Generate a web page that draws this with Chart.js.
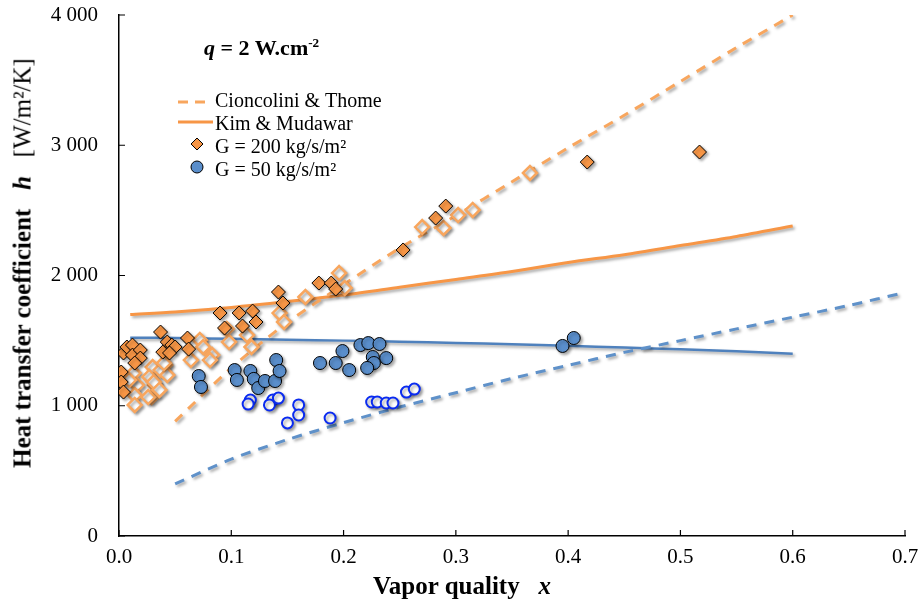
<!DOCTYPE html>
<html lang="en">
<head>
<meta charset="UTF-8">
<title>Heat transfer coefficient vs vapor quality</title>
<script src="https://cdn.jsdelivr.net/npm/chart.js"></script>
<style>
  body { margin: 0; background: #fff; }
  #wrap { position: relative; width: 918px; height: 603px; font-family: "Liberation Serif", "Times New Roman", serif; color: #000; }
  #grafico { position: absolute; left: 0; top: 0; }
  .txt { position: absolute; white-space: nowrap; line-height: 1; }
  #ytitle { left: 22px; top: 263px; font-size: 25px; transform: translate(-50%, -50%) rotate(-90deg); }
  #xtitle { left: 462px; top: 585px; font-size: 25px; transform: translate(-50%, -50%); }
  #qnote { left: 204px; top: 36px; font-size: 22px; font-weight: bold; }
  sup { font-size: 0.6em; vertical-align: 0.6em; }
</style>
</head>
<body>
<div id="wrap">
  <canvas id="grafico" width="918" height="603"></canvas>
  <div class="txt" id="ytitle"><b>Heat transfer coefficient</b>&nbsp;&nbsp;&nbsp;<b><i>h</i></b>&nbsp;&nbsp;&nbsp;[W/m²/K]</div>
  <div class="txt" id="xtitle"><b>Vapor quality</b>&nbsp;&nbsp;&nbsp;<b><i>x</i></b></div>
  <div class="txt" id="qnote"><i>q</i> = 2 W.cm<sup>-2</sup></div>
</div>

<script>
// correlations
const cioX = [0.05, 0.1, 0.15, 0.2, 0.25, 0.3, 0.35, 0.4, 0.45, 0.5, 0.55, 0.6]
const cioG200 = [880, 1290, 1640, 1930, 2210, 2460, 2720, 2980, 3230, 3490, 3750, 4000]
const cioX50 = [0.05, 0.1, 0.15, 0.2, 0.25, 0.3, 0.35, 0.4, 0.45, 0.5, 0.55, 0.6, 0.65, 0.7]
const cioG50 = [400, 590, 740, 870, 990, 1100, 1210, 1310, 1410, 1500, 1590, 1680, 1770, 1870]
const kimX = [0.01, 0.05, 0.1, 0.15, 0.2, 0.25, 0.3, 0.35, 0.4, 0.45, 0.5, 0.55, 0.6]
const kimG200 = [1700, 1720, 1755, 1800, 1850, 1910, 1970, 2030, 2100, 2160, 2230, 2300, 2380]
const kimG50 = [1522, 1520, 1514, 1507, 1500, 1492, 1482, 1472, 1460, 1447, 1433, 1418, 1400]

// measurements G = 200 (filled / open)
const g200X = [0.004, 0.007, 0.012, 0.012, 0.019, 0.019, 0.014, 0.002, 0.002, 0.004,
  0.037, 0.043, 0.047, 0.050, 0.039, 0.045, 0.061, 0.062,
  0.090, 0.107, 0.119, 0.122, 0.094, 0.110, 0.142, 0.146,
  0.178, 0.189, 0.193, 0.253, 0.282, 0.291, 0.417, 0.517]
const g200H = [1405, 1451, 1466, 1389, 1428, 1366, 1328, 1259, 1182, 1105,
  1566, 1489, 1466, 1451, 1412, 1405, 1520, 1435,
  1712, 1712, 1727, 1643, 1597, 1612, 1873, 1789,
  1942, 1942, 1896, 2196, 2441, 2533, 2871, 2948]
const g200bX = [0.366, 0.302, 0.315, 0.289, 0.270, 0.196, 0.201, 0.166, 0.143, 0.147,
  0.096, 0.098, 0.114, 0.118, 0.072, 0.075, 0.083, 0.081, 0.064, 0.041,
  0.030, 0.032, 0.029, 0.013, 0.016, 0.014, 0.014, 0.027, 0.031, 0.026,
  0.037, 0.043, 0.040, 0.036, 0.009]
const g200bH = [2787, 2464, 2503, 2365, 2372, 2019, 1904, 1835, 1712, 1643,
  1589, 1489, 1543, 1451, 1505, 1451, 1389, 1351, 1351, 1313,
  1297, 1159, 1067, 1251, 1159, 1082, 1006, 1221, 1182, 1067,
  1274, 1236, 1328, 1121, 1197]

// measurements G = 50 (filled / open)
const g50X = [0.071, 0.073, 0.103, 0.105, 0.117, 0.120, 0.124, 0.130, 0.139, 0.140, 0.143,
  0.179, 0.193, 0.199, 0.205, 0.215, 0.222, 0.232, 0.226, 0.238, 0.227, 0.221, 0.395, 0.405]
const g50H = [1228, 1144, 1274, 1198, 1267, 1206, 1136, 1190, 1190, 1351, 1267,
  1328, 1328, 1420, 1274, 1466, 1481, 1474, 1374, 1366, 1328, 1290, 1459, 1520]
const g50bX = [0.117, 0.115, 0.137, 0.134, 0.142, 0.160, 0.160, 0.150, 0.188,
  0.225, 0.230, 0.238, 0.244, 0.256, 0.263]
const g50bH = [1044, 1013, 1044, 1006, 1059, 1006, 929, 868, 906,
  1029, 1029, 1021, 1021, 1105, 1128]

const yTicks = [0, 1000, 2000, 3000, 4000]

const pts = (xs, ys) => xs.map((x, i) => ({ x: x, y: ys[i] }))

const laranja = '#f79646'
const laranjaClaro = '#f8a65e'
const azul = '#4f81bd'
const azulClaro = '#5f91c9'
const fonte = '"Liberation Serif", "Times New Roman", serif'

// excel-like drop shadow on every dataset
const sombra = {
  id: 'sombra',
  beforeDatasetDraw(chart) {
    const c = chart.ctx
    c.save()
    c.shadowColor = 'rgba(0,0,0,0.35)'
    c.shadowBlur = 3
    c.shadowOffsetX = 2
    c.shadowOffsetY = 2
  },
  afterDatasetDraw(chart) { chart.ctx.restore() }
}

// inward tick marks
const marcas = {
  id: 'marcas',
  afterDraw(chart) {
    const c = chart.ctx, a = chart.chartArea
    const sx = chart.scales.x, sy = chart.scales.y
    c.save()
    c.strokeStyle = '#000'
    c.lineWidth = 1.2
    c.beginPath()
    yTicks.forEach(v => { const y = sy.getPixelForValue(v); c.moveTo(a.left, y); c.lineTo(a.left + 6, y) })
    for (let v = 0; v <= 0.7001; v += 0.1) { const x = sx.getPixelForValue(v); c.moveTo(x, a.bottom); c.lineTo(x, a.bottom - 6) }
    c.stroke()
    c.restore()
  }
}

// legend inside the plot
const legenda = {
  id: 'legenda',
  afterDraw(chart) {
    const c = chart.ctx
    const x0 = 178, xt = 215
    const linhas = [102, 125, 148, 171]
    c.save()
    c.font = '20px ' + fonte
    c.textBaseline = 'middle'
    // dashed
    c.strokeStyle = laranjaClaro; c.lineWidth = 3; c.setLineDash([10, 7])
    c.beginPath(); c.moveTo(x0, linhas[0]); c.lineTo(x0 + 28, linhas[0]); c.stroke()
    c.setLineDash([])
    c.strokeStyle = laranja; c.lineWidth = 3
    c.beginPath(); c.moveTo(x0, linhas[1] - 3); c.lineTo(x0 + 35, linhas[1] - 3); c.stroke()
    // diamond
    c.fillStyle = laranja; c.strokeStyle = '#000'; c.lineWidth = 1
    c.beginPath(); c.moveTo(197, linhas[2] - 10); c.lineTo(203, linhas[2] - 4); c.lineTo(197, linhas[2] + 2); c.lineTo(191, linhas[2] - 4); c.closePath(); c.fill(); c.stroke()
    // circle
    c.fillStyle = '#5a8ecb'
    c.beginPath(); c.arc(197, linhas[3] - 4, 6, 0, Math.PI * 2); c.fill(); c.stroke()
    c.fillStyle = '#000'
    const itens = chart.data.datasets.filter(d => d.legenda).sort((a, b) => a.legenda - b.legenda)
    itens.forEach((d, i) => c.fillText(d.label, xt, linhas[i]))
    c.restore()
  }
}

const ctx = document.getElementById('grafico')

new Chart(ctx, {
  type: 'scatter',
  data: {
    datasets: [
      { label: 'G = 200 kg/s/m²', legenda: 3, data: pts(g200X, g200H), order: 1,
        pointStyle: 'rectRot', pointRadius: 7, backgroundColor: laranja, borderColor: '#000', borderWidth: 1 },
      { label: 'G = 50 kg/s/m²', legenda: 4, data: pts(g50X, g50H), order: 2,
        pointStyle: 'circle', pointRadius: 6.5, backgroundColor: '#5a8ecb', borderColor: '#000', borderWidth: 1 },
      { label: 'G = 200 open', data: pts(g200bX, g200bH), order: 3,
        pointStyle: 'rectRot', pointRadius: 7, backgroundColor: '#fff', borderColor: laranjaClaro, borderWidth: 2.5 },
      { label: 'G = 50 open', data: pts(g50bX, g50bH), order: 4,
        pointStyle: 'circle', pointRadius: 5.5, backgroundColor: '#fff', borderColor: '#0a2bf0', borderWidth: 2 },
      { label: 'Cioncolini & Thome', legenda: 1, data: pts(cioX, cioG200), order: 5, showLine: true,
        pointRadius: 0, borderColor: laranjaClaro, borderWidth: 3, borderDash: [10, 8], tension: 0.3 },
      { label: 'Kim & Mudawar', legenda: 2, data: pts(kimX, kimG200), order: 6, showLine: true,
        pointRadius: 0, borderColor: laranja, borderWidth: 3, tension: 0.3 },
      { label: 'Cioncolini G50', data: pts(cioX50, cioG50), order: 7, showLine: true,
        pointRadius: 0, borderColor: azulClaro, borderWidth: 3, borderDash: [10, 8], tension: 0.3 },
      { label: 'Kim G50', data: pts(kimX, kimG50), order: 8, showLine: true,
        pointRadius: 0, borderColor: azul, borderWidth: 2.5, tension: 0.3 }
    ]
  },
  options: {
    responsive: false,
    animation: false,
    devicePixelRatio: 1,
    layout: { padding: { top: 15, right: 13, left: 0, bottom: 0 } },
    plugins: { legend: { display: false }, tooltip: { enabled: false } },
    scales: {
      x: {
        type: 'linear', min: 0, max: 0.7,
        afterFit: s => { s.height = 67; s.paddingLeft = 0; s.paddingRight = 0 },
        grid: { display: false, drawTicks: false },
        border: { display: true, color: '#000', width: 1.5 },
        ticks: { stepSize: 0.1, padding: 9, color: '#000', font: { family: fonte, size: 21 },
          callback: v => v.toFixed(1) }
      },
      y: {
        type: 'linear', min: 0, max: 4000,
        afterFit: s => { s.width = 119; s.paddingTop = 0; s.paddingBottom = 0 },
        afterBuildTicks: s => { s.ticks = yTicks.map(v => ({ value: v })) },
        grid: { display: false, drawTicks: false },
        border: { display: true, color: '#000', width: 1.5 },
        ticks: { padding: 21, color: '#000', font: { family: fonte, size: 21 },
          callback: v => v === 0 ? '0' : (v / 1000) + ' 000' }
      }
    }
  },
  plugins: [sombra, marcas, legenda]
})
</script>
</body>
</html>
